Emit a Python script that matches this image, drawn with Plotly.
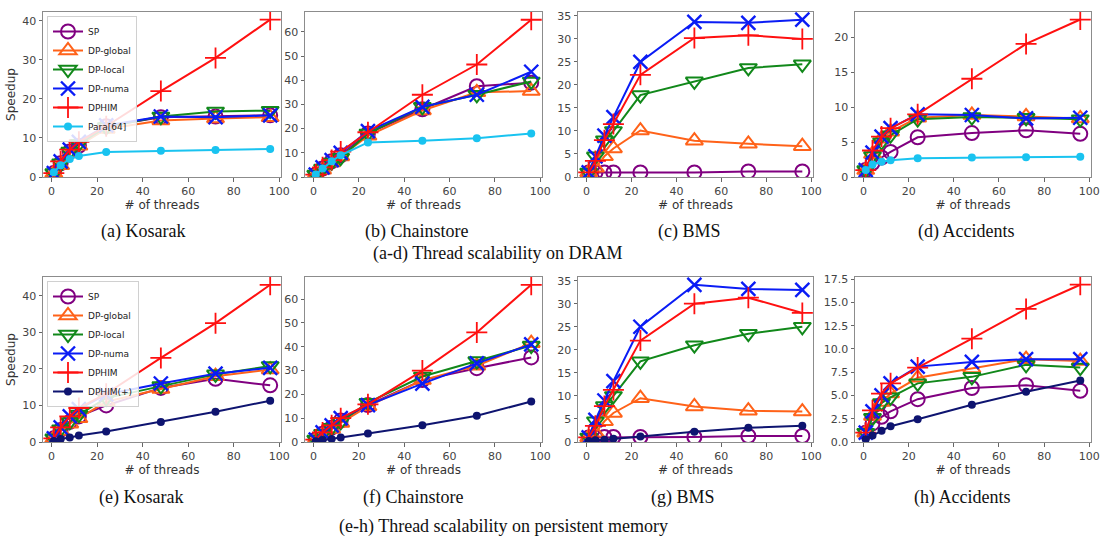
import plotly.graph_objects as go

threads = [1, 4, 8, 12, 24, 48, 72, 96]

series_names = ["SP", "DP-global", "DP-local", "DP-numa", "DPHIM"]

# (a) Kosarak DRAM
a_sp = [1.0, 3.5, 6.5, 8.0, 13.0, 15.3, 15.5, 15.8]
a_dpg = [1.0, 3.0, 6.0, 8.0, 12.3, 14.5, 15.0, 15.3]
a_dpl = [1.0, 3.5, 6.5, 8.5, 12.8, 15.5, 16.8, 17.0]
a_dpn = [1.0, 4.0, 7.0, 9.0, 13.2, 15.5, 15.3, 15.8]
a_dphim = [1.0, 4.0, 7.0, 9.0, 13.0, 22.0, 30.5, 40.3]
a_para = [1.2, 3.0, 4.6, 5.4, 6.4, 6.7, 6.9, 7.2]

# (b) Chainstore DRAM
b_sp = [1.0, 3.5, 6.5, 9.0, 18.0, 28.0, 37.5, 39.0]
b_dpg = [1.0, 3.0, 6.0, 8.5, 17.0, 27.5, 35.0, 35.5]
b_dpl = [1.0, 3.5, 6.0, 8.0, 18.0, 29.0, 34.0, 39.5]
b_dpn = [1.0, 4.0, 7.0, 10.0, 19.0, 29.0, 34.0, 43.5]
b_dphim = [1.0, 4.0, 7.0, 10.5, 18.5, 34.0, 46.5, 65.0]
b_para = [1.0, 3.5, 6.5, 9.0, 14.3, 15.0, 16.0, 18.0]

# (c) BMS DRAM
c_sp = [1.0, 1.0, 1.0, 1.0, 1.0, 1.0, 1.2, 1.2]
c_dpg = [1.0, 2.0, 4.5, 6.2, 10.1, 7.9, 7.2, 6.7]
c_dpl = [1.0, 4.5, 8.0, 10.0, 17.8, 20.8, 23.7, 24.5]
c_dpn = [1.0, 4.5, 9.0, 13.0, 25.0, 33.7, 33.5, 34.2]
c_dphim = [1.0, 3.5, 8.0, 11.5, 22.2, 30.2, 30.8, 30.0]

# (d) Accidents DRAM
d_sp = [1.0, 2.0, 2.8, 3.6, 5.7, 6.3, 6.7, 6.2]
d_dpg = [1.0, 3.3, 5.5, 6.5, 8.5, 8.9, 8.7, 8.4]
d_dpl = [1.0, 3.0, 5.0, 6.0, 8.3, 8.6, 8.5, 8.3]
d_dpn = [1.0, 3.5, 5.8, 7.0, 9.0, 8.9, 8.4, 8.5]
d_dphim = [1.0, 3.8, 5.8, 7.0, 9.0, 14.1, 19.1, 22.6]
d_para = [1.0, 1.8, 2.2, 2.4, 2.7, 2.8, 2.85, 2.9]

# (e) Kosarak PM
e_sp = [1.0, 3.3, 5.5, 7.0, 10.0, 14.8, 17.3, 15.5]
e_dpg = [1.0, 3.0, 5.0, 6.5, 11.0, 14.5, 18.0, 19.8]
e_dpl = [1.0, 3.5, 5.5, 7.5, 12.0, 15.3, 18.5, 20.8]
e_dpn = [1.0, 4.0, 7.0, 9.0, 13.0, 16.0, 18.7, 20.3]
e_dphim = [1.0, 4.0, 7.0, 9.3, 13.2, 23.0, 32.5, 43.0]
e_plus = [0.3, 0.8, 1.2, 1.8, 2.9, 5.5, 8.3, 11.3]

# (f) Chainstore PM
f_sp = [1.0, 3.5, 6.0, 9.0, 15.5, 26.0, 31.0, 35.5]
f_dpg = [1.0, 3.0, 5.5, 8.0, 15.0, 26.0, 32.0, 41.5]
f_dpl = [1.0, 3.5, 6.0, 8.5, 16.5, 27.5, 34.0, 40.5]
f_dpn = [1.0, 4.0, 7.0, 10.0, 15.5, 24.5, 33.0, 41.0]
f_dphim = [1.0, 4.0, 7.0, 10.0, 15.8, 30.0, 46.0, 66.0]
f_plus = [0.3, 0.8, 1.3, 1.9, 3.6, 7.0, 11.0, 17.0]

# (g) BMS PM
g_sp = [1.0, 1.0, 1.1, 1.1, 1.1, 1.1, 1.3, 1.3]
g_dpg = [1.0, 2.0, 4.5, 6.3, 9.5, 7.7, 6.8, 6.6]
g_dpl = [1.0, 4.5, 7.8, 10.0, 17.5, 21.0, 23.5, 25.0]
g_dpn = [1.0, 4.8, 9.0, 13.2, 25.0, 34.1, 33.2, 33.0]
g_dphim = [1.0, 3.5, 7.8, 11.3, 22.0, 30.0, 31.3, 28.0]
g_plus = [0.2, 0.4, 0.5, 0.7, 1.2, 2.2, 3.1, 3.5]

# (h) Accidents PM
h_sp = [1.0, 2.0, 2.7, 3.3, 4.6, 5.8, 6.1, 5.5]
h_dpg = [1.0, 2.8, 4.3, 5.2, 6.9, 7.9, 8.9, 8.7]
h_dpl = [1.0, 2.6, 4.2, 4.8, 6.3, 7.0, 8.3, 8.0]
h_dpn = [1.0, 3.3, 5.0, 6.3, 8.1, 8.6, 8.9, 8.9]
h_dphim = [1.0, 3.4, 5.2, 6.3, 8.0, 11.1, 14.3, 16.9]
h_plus = [0.3, 0.7, 1.2, 1.7, 2.45, 4.0, 5.4, 6.6]

x_ticks = [0, 20, 40, 60, 80, 100]
y_dticks = [10, 10, 5, 5, 10, 10, 5, 2.5]
captions_top = ["(a) Kosarak", "(b) Chainstore", "(c) BMS", "(d) Accidents"]
captions_bot = ["(e) Kosarak", "(f) Chainstore", "(g) BMS", "(h) Accidents"]
row_title_top = "(a-d) Thread scalability on DRAM"
row_title_bot = "(e-h) Thread scalability on persistent memory"

panels = [
    [a_sp, a_dpg, a_dpl, a_dpn, a_dphim, ("Para[64]", a_para)],
    [b_sp, b_dpg, b_dpl, b_dpn, b_dphim, ("Para[64]", b_para)],
    [c_sp, c_dpg, c_dpl, c_dpn, c_dphim, None],
    [d_sp, d_dpg, d_dpl, d_dpn, d_dphim, ("Para[64]", d_para)],
    [e_sp, e_dpg, e_dpl, e_dpn, e_dphim, ("DPHIM(+)", e_plus)],
    [f_sp, f_dpg, f_dpl, f_dpn, f_dphim, ("DPHIM(+)", f_plus)],
    [g_sp, g_dpg, g_dpl, g_dpn, g_dphim, ("DPHIM(+)", g_plus)],
    [h_sp, h_dpg, h_dpl, h_dpn, h_dphim, ("DPHIM(+)", h_plus)],
]

styles = {
    "SP": dict(color="#800080", symbol="circle-open", size=14, lw=2),
    "DP-global": dict(color="#ff6219", symbol="triangle-up-open", size=15, lw=2),
    "DP-local": dict(color="#11881a", symbol="triangle-down-open", size=15, lw=2),
    "DP-numa": dict(color="#0a1cf5", symbol="x-thin-open", size=14, lw=2.4),
    "DPHIM": dict(color="#ff1010", symbol="cross-thin-open", size=15, lw=1.8),
    "Para[64]": dict(color="#19c3f0", symbol="circle", size=8, lw=0),
    "DPHIM(+)": dict(color="#0e1470", symbol="circle", size=8, lw=0),
}

W, H = 1104, 539
x_px = [(43, 281), (305, 542), (578, 813), (855, 1091)]
y_px = [(12, 177), (277, 442)]

fig = go.Figure()
axis_font = dict(family="DejaVu Sans", size=11, color="#444")
title_font = dict(family="DejaVu Sans", size=12, color="#333")

for i, panel in enumerate(panels):
    row, col = divmod(i, 4)
    idx = "" if i == 0 else str(i + 1)
    xa, ya = "x" + idx, "y" + idx
    legend = "legend" if row == 0 else "legend2"
    show = (col == 0)
    all_vals = []
    for name, vals in zip(series_names, panel[:5]):
        st = styles[name]
        all_vals += vals
        fig.add_trace(go.Scatter(
            x=threads, y=vals, name=name, mode="lines+markers",
            line=dict(color=st["color"], width=2),
            marker=dict(symbol=st["symbol"], size=st["size"], color=st["color"],
                        line=dict(color=st["color"], width=st["lw"])),
            xaxis=xa, yaxis=ya, showlegend=show, legend=legend))
    if panel[5] is not None:
        name, vals = panel[5]
        st = styles[name]
        all_vals += vals
        fig.add_trace(go.Scatter(
            x=threads, y=vals, name=name, mode="lines+markers",
            line=dict(color=st["color"], width=2),
            marker=dict(symbol=st["symbol"], size=st["size"], color=st["color"]),
            xaxis=xa, yaxis=ya, showlegend=show, legend=legend))
    ymax, ymin = max(all_vals), min(all_vals)
    ytop = ymax + 0.05 * (ymax - ymin)
    x0, x1 = x_px[col]
    y0, y1 = y_px[row]
    common = dict(showline=True, mirror=True, linecolor="#8c8c8c", linewidth=1,
                  ticks="outside", ticklen=3.5, tickcolor="#666", showgrid=False,
                  zeroline=False, tickfont=axis_font, automargin=False)
    fig.layout["xaxis" + idx] = dict(
        domain=[x0 / W, x1 / W], anchor=ya, range=[-3.75, 100.75],
        tickvals=x_ticks,
        title=dict(text="# of threads", font=title_font, standoff=1),
        **common)
    fig.layout["yaxis" + idx] = dict(
        domain=[1 - y1 / H, 1 - y0 / H], anchor=xa, range=[0, ytop],
        tick0=0, dtick=y_dticks[i], tickformat=".1f" if i == 7 else None,
        title=dict(text="Speedup" if col == 0 else "", font=title_font, standoff=4),
        **common)

serif = "Liberation Serif"
cap_font = dict(family=serif, size=18, color="#111")
cap_x_top = [143, 416, 689, 966]
cap_x_bot = [141, 413, 683, 962]
for cx, txt in zip(cap_x_top, captions_top):
    fig.add_annotation(x=cx / W, y=1 - 232 / H, xref="paper", yref="paper", text=txt,
                       xanchor="center", yanchor="middle", showarrow=False, font=cap_font)
for cx, txt in zip(cap_x_bot, captions_bot):
    fig.add_annotation(x=cx / W, y=1 - 497 / H, xref="paper", yref="paper", text=txt,
                       xanchor="center", yanchor="middle", showarrow=False, font=cap_font)
fig.add_annotation(x=498 / W, y=1 - 253 / H, xref="paper", yref="paper", text=row_title_top,
                   xanchor="center", yanchor="middle", showarrow=False, font=cap_font)
fig.add_annotation(x=503 / W, y=1 - 526 / H, xref="paper", yref="paper", text=row_title_bot,
                   xanchor="center", yanchor="middle", showarrow=False, font=cap_font)

leg_common = dict(xanchor="left", yanchor="top", bgcolor="rgba(255,255,255,0.85)",
                  bordercolor="#d0d0d0", borderwidth=1, itemwidth=30,
                  font=dict(family="DejaVu Sans", size=9, color="#222"),
                  tracegroupgap=0, traceorder="normal")
fig.update_layout(
    width=W, height=H, margin=dict(l=0, r=0, t=0, b=0, autoexpand=False),
    plot_bgcolor="white", paper_bgcolor="white",
    legend=dict(x=47 / W, y=1 - 16 / H, **leg_common),
    legend2=dict(x=47 / W, y=1 - 281 / H, **leg_common),
)

fig.write_html("out.html",
               config={"displayModeBar": False},
               post_script="document.body.style.margin='0';document.body.style.padding='0';")
